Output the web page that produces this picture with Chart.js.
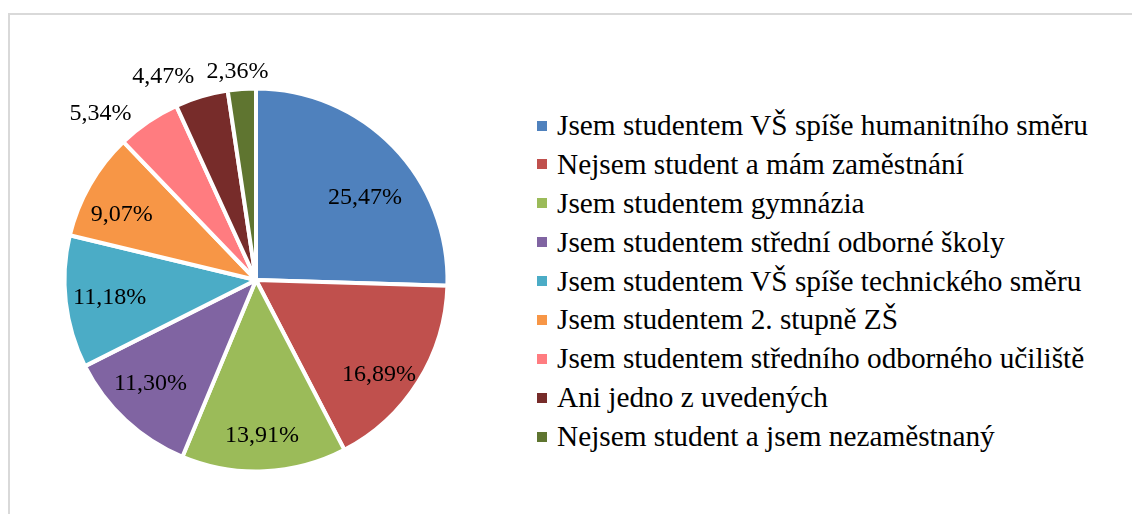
<!DOCTYPE html>
<html>
<head>
<meta charset="utf-8">
<script src="https://cdn.jsdelivr.net/npm/chart.js@4/dist/chart.umd.min.js"></script>
<style>
  html, body { margin: 0; padding: 0; background: #fff; }
  body { width: 1132px; height: 514px; position: relative; overflow: hidden; font-family: "Liberation Serif", "DejaVu Serif", serif; }
  #frame { position: absolute; left: 8px; top: 13px; width: 1200px; height: 600px; border-top: 2px solid #D9D9D9; border-left: 2px solid #D9D9D9; box-sizing: border-box; }
  #wrap { position: absolute; left: 0; top: 0; width: 512px; height: 514px; }
  #legend { position: absolute; left: 537px; top: 106px; }
  .row { position: relative; height: 38.875px; white-space: nowrap; }
  .sw { position: absolute; left: 0; top: 14.5px; width: 10px; height: 10px; }
  .lt { position: absolute; left: 20px; top: 0; line-height: 38.875px; font-size: 29.3px; color: #000; font-family: "Liberation Serif", serif; }
</style>
</head>
<body>
<div id="frame"></div>
<div id="wrap"><canvas id="c"></canvas></div>
<div id="legend"></div>
<script>
const categories = [
  "Jsem studentem VŠ spíše humanitního směru",
  "Nejsem student a mám zaměstnání",
  "Jsem studentem gymnázia",
  "Jsem studentem střední odborné školy",
  "Jsem studentem VŠ spíše technického směru",
  "Jsem studentem 2. stupně ZŠ",
  "Jsem studentem středního odborného učiliště",
  "Ani jedno z uvedených",
  "Nejsem student a jsem nezaměstnaný"
];
const values = [25.47, 16.89, 13.91, 11.30, 11.18, 9.07, 5.34, 4.47, 2.36];
const colors = ["#4F81BD", "#C0504D", "#9BBB59", "#8064A2", "#4BACC6", "#F79646", "#FF7C80", "#772C2A", "#5F7530"];
// label placement: fraction along the slice angle, and radius factor
const labelAngleFrac = [0.576, 0.59, 0.505, 0.56, 0.49, 0.38, 0.04, 0.0, 0.4];
const labelRadiusFrac = [0.714, 0.81, 0.816, 0.774, 0.77, 0.78, 1.19, 1.165, 1.09];

function fmt(v) { return v.toFixed(2).replace('.', ',') + '%'; }

const labelPlugin = {
  id: 'sliceLabels',
  afterDatasetsDraw(chart) {
    const ctx = chart.ctx;
    const meta = chart.getDatasetMeta(0);
    ctx.save();
    ctx.font = '24px "Liberation Serif", serif';
    ctx.fillStyle = '#000';
    ctx.textAlign = 'center';
    ctx.textBaseline = 'middle';
    meta.data.forEach((arc, i) => {
      const p = arc.getProps(['x', 'y', 'startAngle', 'endAngle', 'outerRadius'], true);
      const a = p.startAngle + labelAngleFrac[i] * (p.endAngle - p.startAngle);
      const r = p.outerRadius * labelRadiusFrac[i];
      ctx.fillText(fmt(chart.data.datasets[0].data[i]), p.x + Math.cos(a) * r, p.y + Math.sin(a) * r);
    });
    ctx.restore();
  }
};

new Chart(document.getElementById('c'), {
  type: 'pie',
  data: {
    labels: categories,
    datasets: [{ data: values, backgroundColor: colors, borderColor: '#FFFFFF', borderWidth: 4 }]
  },
  options: {
    responsive: true,
    maintainAspectRatio: false,
    animation: false,
    layout: { padding: { left: 62.5, right: 62.5, top: 86.5, bottom: 40.5 } },
    plugins: { legend: { display: false }, tooltip: { enabled: false } }
  },
  plugins: [labelPlugin]
});

const lg = document.getElementById('legend');
categories.forEach((name, i) => {
  const row = document.createElement('div');
  row.className = 'row';
  const sw = document.createElement('div');
  sw.className = 'sw';
  sw.style.background = colors[i];
  const t = document.createElement('div');
  t.className = 'lt';
  t.textContent = name;
  row.appendChild(sw);
  row.appendChild(t);
  lg.appendChild(row);
});
</script>
</body>
</html>
